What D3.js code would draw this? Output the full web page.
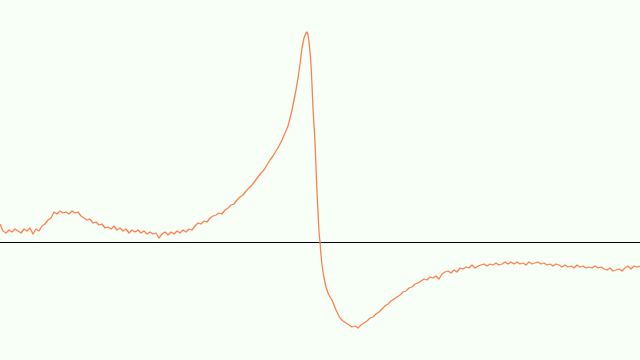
<!DOCTYPE html>
<html>
<head>
<meta charset="utf-8">
<script src="https://cdn.jsdelivr.net/npm/d3@7"></script>
<style>
  html, body { margin: 0; padding: 0; background: #f7fff7; }
  svg { display: block; }
</style>
</head>
<body>
<svg id="chart" width="640" height="360"></svg>
<script>
// Sample times (ms)
const time = [
    0, 3, 6, 9, 12, 15, 18, 21, 24, 27, 30, 33, 36, 39, 42, 45, 48, 51, 54, 57,
    60, 63, 66, 69, 72, 75, 78, 81, 84, 87, 90, 93, 96, 99, 102, 105, 108, 111, 114, 117,
    120, 123, 126, 129, 132, 135, 138, 141, 144, 147, 150, 153, 156, 159, 162, 165, 168, 171, 174, 177,
    180, 183, 186, 189, 192, 195, 198, 201, 204, 207, 210, 213, 216, 219, 222, 225, 228, 231, 234, 237,
    240, 243, 246, 249, 252, 255, 258, 261, 264, 267, 270, 273, 276, 279, 282, 285, 288, 290, 292, 294,
    296, 298, 300, 302, 304, 306, 307, 308, 309, 310, 311, 312, 313, 314, 315, 316, 317, 318, 319, 320,
    321, 322, 324, 326, 328, 330, 332, 334, 336, 338, 340, 343, 346, 349, 352, 355, 358, 361, 364, 367,
    370, 373, 376, 379, 382, 385, 388, 391, 394, 397, 400, 403, 406, 409, 412, 415, 418, 421, 424, 427,
    430, 433, 436, 439, 442, 445, 448, 451, 454, 457, 460, 463, 466, 469, 472, 475, 478, 481, 484, 487,
    490, 493, 496, 499, 502, 505, 508, 511, 514, 517, 520, 523, 526, 529, 532, 535, 538, 541, 544, 547,
    550, 553, 556, 559, 562, 565, 568, 571, 574, 577, 580, 583, 586, 589, 592, 595, 598, 601, 604, 607,
    610, 613, 616, 619, 622, 625, 628, 631, 634, 637, 640
]

// Signal amplitude (arbitrary units)
const amplitude = [
    18, 11, 9, 12, 10, 13, 11, 9, 13, 11, 14, 8, 13, 11, 16, 18, 22, 24, 30, 28,
    31, 29, 30, 28, 31, 29, 30, 26, 24, 22, 23, 19, 20, 17, 18, 14, 15, 13, 16, 12,
    14, 11, 13, 9, 12, 10, 12, 9, 11, 8, 10, 8, 9, 4, 8, 10, 7, 10, 8, 11,
    9, 12, 10, 13, 12, 16, 19, 18, 21, 20, 24, 26, 27, 29, 28, 32, 34, 37, 38, 42,
    45, 47, 51, 54, 57, 61, 65, 69, 72, 77, 82, 86, 91, 96, 102, 109, 116, 124, 132, 142,
    152, 164, 178, 194, 204, 209, 210, 207, 200, 190, 177, 157, 134, 117, 100, 74, 50, 30, 10, 0,
    -13, -23, -36, -45, -51, -55, -58, -63, -68, -72, -76, -79, -81, -83, -85, -84, -86, -83, -81, -79,
    -76, -75, -72, -70, -67, -64, -62, -59, -57, -55, -53, -50, -49, -46, -45, -42, -41, -39, -37, -38,
    -35, -36, -34, -37, -32, -30, -29, -31, -28, -30, -26, -27, -25, -26, -23, -26, -24, -23, -22, -24,
    -22, -23, -21, -23, -22, -20, -22, -20, -22, -20, -22, -21, -23, -20, -22, -21, -20, -22, -21, -23,
    -22, -24, -22, -23, -25, -23, -25, -24, -26, -23, -25, -24, -26, -25, -26, -24, -26, -25, -27, -28,
    -26, -29, -28, -27, -29, -26, -24, -27, -24, -25, -24
]

const width = 640
const height = 360

const svg = d3.select("#chart")

// Scales
const x = d3.scaleLinear()
    .domain([0, 640])
    .range([0, width])

const y = d3.scaleLinear()
    .domain([-118, 242])
    .range([height, 0])

// Zero line
svg.append("line")
    .attr("x1", x(0))
    .attr("x2", x(640))
    .attr("y1", y(0) + 0.5)
    .attr("y2", y(0) + 0.5)
    .attr("stroke", "#000")
    .attr("stroke-width", 1)

// Signal trace
const points = time.map((t, i) => [t, amplitude[i]])

const line = d3.line()
    .x(d => x(d[0]))
    .y(d => y(d[1]))

svg.append("path")
    .datum(points)
    .attr("fill", "none")
    .attr("stroke", "#ff7f50")
    .attr("stroke-width", 1.3)
    .attr("stroke-linejoin", "round")
    .attr("d", line)
</script>
</body>
</html>
